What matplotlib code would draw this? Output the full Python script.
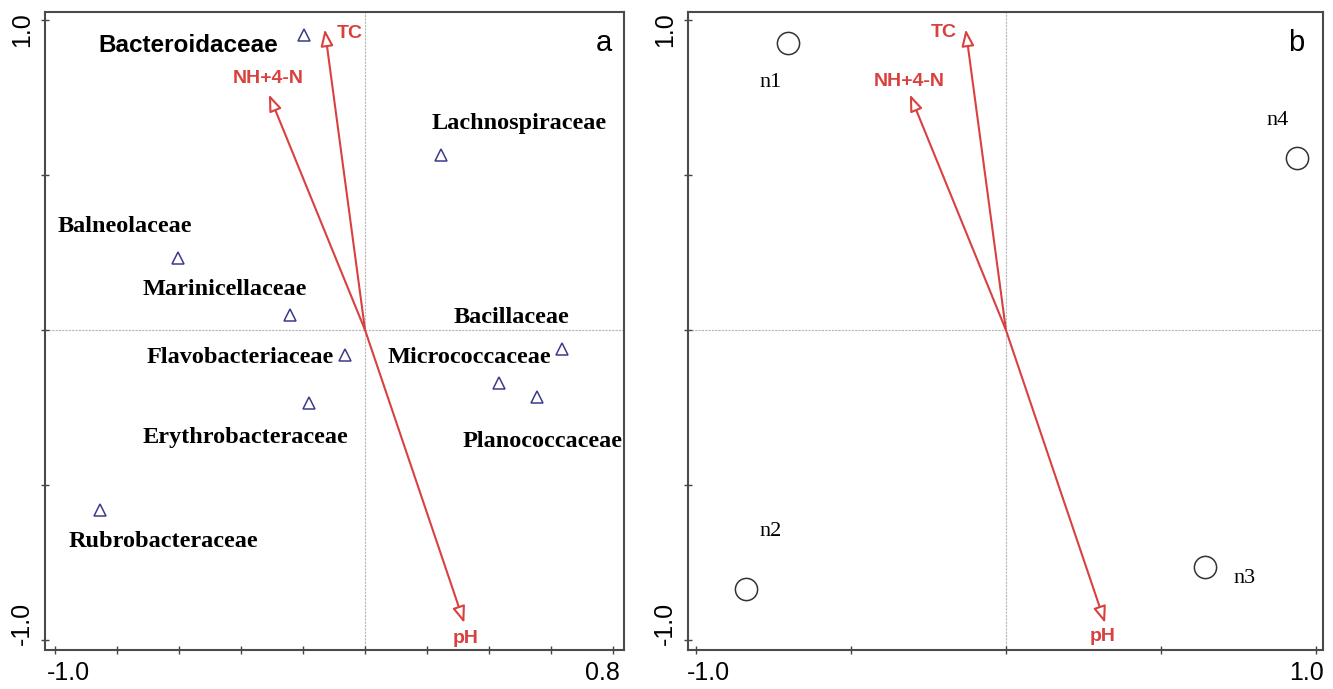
import matplotlib
matplotlib.use("Agg")
import matplotlib.pyplot as plt
import matplotlib.transforms as mtransforms

## donnees lues sur la figure
# panneau a : familles (triangles)
fam_noms = ["Bacteroidaceae", "Lachnospiraceae", "Balneolaceae", "Marinicellaceae",
            "Flavobacteriaceae", "Erythrobacteraceae", "Rubrobacteraceae",
            "Bacillaceae", "Micrococcaceae", "Planococcaceae"]
fam_x = [-0.197, 0.245, -0.603, -0.242, -0.065, -0.181, -0.855, 0.432, 0.635, 0.555]
fam_y = [0.952, 0.565, 0.232, 0.048, -0.081, -0.235, -0.581, -0.171, -0.061, -0.216]
# position des etiquettes (coordonnees des donnees)
fam_lab_x = [-0.571, 0.497, -0.776, -0.452, -0.403, -0.387, -0.652, 0.471, 0.335, 0.571]
fam_lab_y = [0.919, 0.665, 0.335, 0.13, -0.087, -0.345, -0.681, 0.042, -0.087, -0.358]

# panneau b : echantillons (cercles)
ech_noms = ["n1", "n2", "n3", "n4"]
ech_x = [-0.703, -0.839, 0.642, 0.939]
ech_y = [0.926, -0.835, -0.765, 0.555]
ech_lab_x = [-0.76, -0.76, 0.77, 0.875]
ech_lab_y = [0.80, -0.65, -0.80, 0.675]

# variables environnementales (fleches)
env_noms = ["TC", "NH+4-N", "pH"]
env_x = [-0.13, -0.31, 0.32]
env_y = [0.97, 0.76, -0.945]

rouge = "#d8413f"
bleu = "#3b3b8a"

fig = plt.figure(figsize=(13.33, 6.89), dpi=100)
ax_a = fig.add_axes([0.0338, 0.0566, 0.4343, 0.926])
ax_b = fig.add_axes([0.5161, 0.0566, 0.4764, 0.926])

def decale(lab, dx, dy):
    # petit decalage (en points) d'une etiquette de graduation
    lab.set_transform(lab.get_transform() +
                      mtransforms.ScaledTranslation(dx / 72, dy / 72, fig.dpi_scale_trans))

def cadre(ax, xlim, xticks, xlabs, dx_g, dx_d):
    ax.set_xlim(xlim)
    ax.set_ylim(-1.032, 1.026)
    ax.axhline(0, color="#b5b5b5", lw=0.8, ls=(0, (2, 1)), zorder=0)
    ax.axvline(0, color="#b5b5b5", lw=0.8, ls=(0, (2, 1)), zorder=0)
    ax.set_xticks(xticks)
    ax.set_xticklabels(xlabs, fontfamily="Liberation Sans", fontsize=18)
    ax.set_yticks([-1.0, -0.5, 0, 0.5, 1.0])
    ax.set_yticklabels(["-1.0", "", "", "", "1.0"], fontfamily="Liberation Sans",
                       fontsize=18, rotation=90, va="center")
    ax.tick_params(direction="inout", length=6, width=1.0, color="#444444", pad=5)
    for s in ax.spines.values():
        s.set_color("#4a4a4a")
        s.set_linewidth(1.5)
    xl = ax.get_xticklabels()
    decale(xl[0], dx_g, 0)
    decale(xl[-1], dx_d, 0)
    yl = ax.get_yticklabels()
    decale(yl[0], 0, 12)
    decale(yl[-1], 0, -7)

def fleches(ax, lab_pos):
    for nom, x, y, (lx, ly, ha) in zip(env_noms, env_x, env_y, lab_pos):
        ax.annotate("", xy=(x, y), xytext=(0, 0),
                    arrowprops=dict(arrowstyle="-|>,head_length=1.0,head_width=0.38",
                                    ec=rouge, fc="white", lw=1.5,
                                    shrinkA=0, shrinkB=0))
        ax.text(lx, ly, nom, color=rouge, fontsize=14, fontweight="bold",
                family="Liberation Sans", ha=ha, va="center")

# ----- panneau a
cadre(ax_a, (-1.032, 0.835), [-1.0, -0.8, -0.6, -0.4, -0.2, 0, 0.2, 0.4, 0.6, 0.8],
      ["-1.0", "", "", "", "", "", "", "", "", "0.8"], 10, -8)
ax_a.plot(fam_x, fam_y, ls="none", marker="^", ms=9, mfc="none", mec=bleu, mew=1.1)
for i, nom in enumerate(fam_noms):
    if nom == "Bacteroidaceae":
        ax_a.text(fam_lab_x[i], fam_lab_y[i], nom, family="Liberation Sans",
                  fontweight="bold", fontsize=17.5, ha="center", va="center")
    else:
        ax_a.text(fam_lab_x[i], fam_lab_y[i], nom, family="Liberation Serif",
                  fontweight="bold", fontsize=17.5, ha="center", va="center")
fleches(ax_a, [(-0.09, 0.955, "left"), (-0.313, 0.81, "center"), (0.323, -0.995, "center")])
ax_a.text(0.77, 0.925, "a", fontsize=21, family="Liberation Sans", ha="center", va="center")

# ----- panneau b
cadre(ax_b, (-1.026, 1.023), [-1.0, -0.5, 0, 0.5, 1.0], ["-1.0", "", "", "", "1.0"], 9, -7)
ax_b.plot(ech_x, ech_y, ls="none", marker="o", ms=16, mfc="none", mec="#333333", mew=1.1)
for i, nom in enumerate(ech_noms):
    ax_b.text(ech_lab_x[i], ech_lab_y[i], nom, family="Liberation Serif",
              fontsize=16, ha="center", va="center")
fleches(ax_b, [(-0.158, 0.961, "right"), (-0.311, 0.803, "center"), (0.313, -0.99, "center")])
ax_b.text(0.937, 0.925, "b", fontsize=21, family="Liberation Sans", ha="center", va="center")

fig.savefig("out.png", dpi=100)
